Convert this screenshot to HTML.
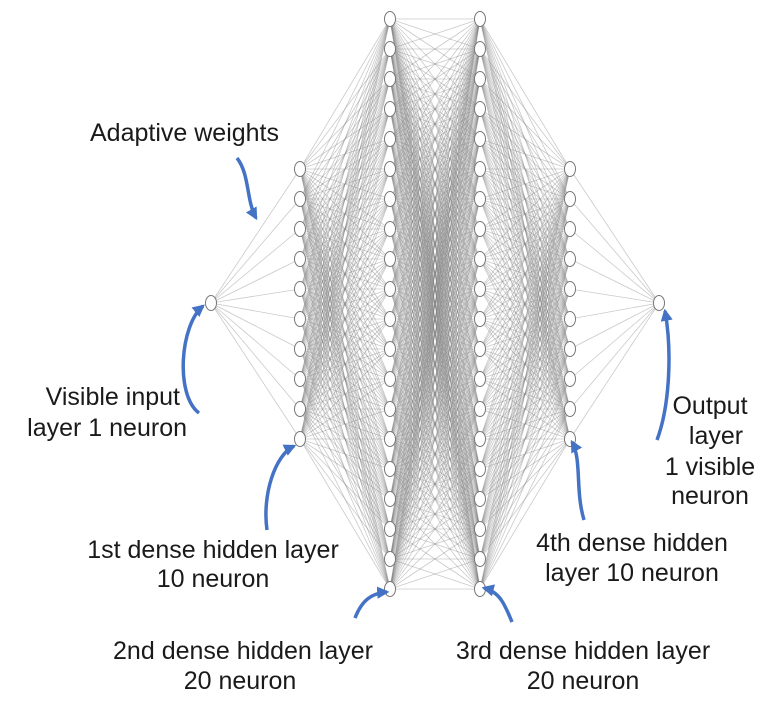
<!DOCTYPE html>
<html><head><meta charset="utf-8"><style>
html,body{margin:0;padding:0;background:#fff;}
svg{display:block;}
text{font-family:"Liberation Sans",Arial,sans-serif;font-size:25px;fill:#1a1a1a;}
</style></head><body>
<svg id="s" width="768" height="703" viewBox="0 0 768 703" xmlns="http://www.w3.org/2000/svg">
<defs><marker id="a" viewBox="0 0 10 10" refX="8" refY="5" markerWidth="3.5" markerHeight="3.5" orient="auto"><path d="M0,0 L10,5 L0,10 z" fill="#4472c4"/></marker></defs>
<g id="lines" stroke="#808080" stroke-opacity="0.42" stroke-width="0.8"></g>
<g id="nodes" fill="#fff" stroke="#777" stroke-width="1"></g>
<g fill="none" stroke="#4472c4" stroke-width="3.5" marker-end="url(#a)">
<path d="M237,158 C250,175 246,200 256,218"/>
<path d="M199,413 C175,395 180,325 203,306"/>
<path d="M267,530 C262,495 275,455 294,446"/>
<path d="M355,618 C362,600 372,593 387,592"/>
<path d="M512,622 C505,605 500,592 484,588"/>
<path d="M584,520 C575,490 582,460 572,442"/>
<path d="M657,440 C670,405 672,350 665,311"/>
</g>
<text x="90" y="141">Adaptive weights</text>
<text x="180" y="405" text-anchor="end">Visible input</text>
<text x="187" y="436" text-anchor="end">layer 1 neuron</text>
<text x="213" y="558" text-anchor="middle">1st dense hidden layer</text>
<text x="213" y="587" text-anchor="middle">10 neuron</text>
<text x="243" y="659" text-anchor="middle">2nd dense hidden layer</text>
<text x="240" y="689" text-anchor="middle">20 neuron</text>
<text x="583" y="659" text-anchor="middle">3rd dense hidden layer</text>
<text x="583" y="689" text-anchor="middle">20 neuron</text>
<text x="632" y="551" text-anchor="middle">4th dense hidden</text>
<text x="632" y="581" text-anchor="middle">layer 10 neuron</text>
<text x="710" y="414" text-anchor="middle">Output</text>
<text x="716" y="444" text-anchor="middle">layer</text>
<text x="710" y="475" text-anchor="middle">1 visible</text>
<text x="710" y="504" text-anchor="middle">neuron</text>
</svg>
<script>
var L=[[211,[303]],[300,[]],[390,[]],[480,[]],[570,[]],[659,[303]]];
for(var i=0;i<10;i++){L[1][1].push(169+i*30);L[4][1].push(169+i*30);}
for(var i=0;i<20;i++){L[2][1].push(19+i*30);L[3][1].push(19+i*30);}
var ns="http://www.w3.org/2000/svg",lg=document.getElementById("lines"),ng=document.getElementById("nodes");
for(var k=0;k<5;k++){var A=L[k],B=L[k+1];A[1].forEach(function(y1){B[1].forEach(function(y2){var l=document.createElementNS(ns,"line");l.setAttribute("x1",A[0]);l.setAttribute("y1",y1);l.setAttribute("x2",B[0]);l.setAttribute("y2",y2);lg.appendChild(l);});});}
L.forEach(function(c){c[1].forEach(function(y){var e=document.createElementNS(ns,"ellipse");e.setAttribute("cx",c[0]);e.setAttribute("cy",y);e.setAttribute("rx",5.5);e.setAttribute("ry",7.5);ng.appendChild(e);});});
</script>
</body></html>
